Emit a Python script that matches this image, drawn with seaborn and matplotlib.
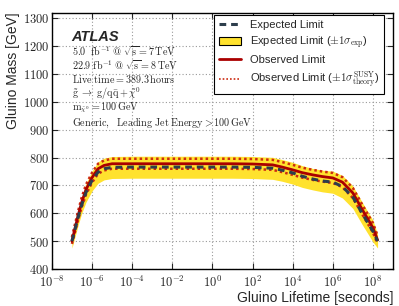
import numpy as np
import pandas as pd
import seaborn as sns
import matplotlib.pyplot as plt
from matplotlib.lines import Line2D
from matplotlib.patches import Patch
from matplotlib.ticker import FixedLocator, FuncFormatter, NullLocator

# Gluino lifetime [s] and mass limits [GeV]
lifetime = [1e-7, 2e-7, 3e-7, 5e-7, 1e-6, 2e-6, 4e-6, 1e-5, 1e-4, 1e-3, 1e-2, 1e-1,
            1e0, 1e1, 1e2, 1e3, 3e3, 1e4, 3e4, 1e5, 3e5, 1e6, 3e6, 1e7, 3e7, 1e8, 1.7e8]
observed = [500, 590, 637, 685, 728, 760, 772, 778, 778, 778, 778, 778,
            778, 778, 777, 774, 766, 756, 746, 738, 732, 727, 712, 673, 612, 548, 504]
expected = [500, 583, 628, 675, 718, 748, 760, 765, 766, 766, 766, 766,
            766, 766, 765, 762, 755, 745, 733, 723, 716, 712, 696, 658, 598, 535, 500]
exp_hi = [515, 607, 656, 707, 752, 785, 798, 804, 805, 805, 805, 805,
          805, 805, 804, 801, 793, 783, 771, 761, 755, 751, 736, 698, 638, 575, 525]
exp_lo = [475, 555, 598, 640, 680, 708, 720, 725, 726, 726, 726, 726,
          726, 726, 725, 722, 715, 705, 693, 684, 677, 672, 655, 617, 558, 497, 475]
theory_hi = [515, 606, 655, 703, 746, 778, 790, 796, 796, 796, 796, 796,
             796, 796, 795, 792, 784, 774, 764, 756, 750, 745, 730, 691, 630, 565, 520]
theory_lo = [490, 575, 620, 667, 710, 742, 754, 760, 760, 760, 760, 760,
             760, 760, 759, 756, 748, 738, 728, 720, 714, 709, 694, 655, 595, 531, 490]

df = pd.DataFrame({"lifetime": lifetime, "observed": observed, "expected": expected,
                   "theory_hi": theory_hi, "theory_lo": theory_lo})

sns.set_style("ticks")
plt.rcParams["mathtext.fontset"] = "cm"
plt.rcParams["font.family"] = ["Liberation Sans", "DejaVu Sans"]

fig = plt.figure(figsize=(3.99, 3.06), dpi=100)
ax = fig.add_axes([0.130, 0.121, 0.855, 0.837])

yellow = "#ffe22e"
red = "#aa0000"
dot_red = "#cc2a10"
slate = "#2d3e4c"

ax.fill_between(lifetime, exp_lo, exp_hi, color=yellow, lw=0, zorder=2)
sns.lineplot(data=df, x="lifetime", y="theory_hi", ax=ax, color=dot_red, lw=1.8,
             linestyle=(0, (1, 1.2)), zorder=3)
sns.lineplot(data=df, x="lifetime", y="theory_lo", ax=ax, color=dot_red, lw=1.8,
             linestyle=(0, (1, 1.2)), zorder=3)
sns.lineplot(data=df, x="lifetime", y="observed", ax=ax, color=red, lw=2.0, zorder=4)
sns.lineplot(data=df, x="lifetime", y="expected", ax=ax, color=slate, lw=2.2,
             linestyle=(0, (2.2, 1.6)), zorder=5)

ax.set_xscale("log")
ax.set_xlim(1e-8, 1e9)
ax.set_ylim(400, 1320)
ax.xaxis.set_major_locator(FixedLocator([10.0 ** k for k in range(-8, 9, 2)]))
ax.xaxis.set_minor_locator(NullLocator())
ax.yaxis.set_major_locator(FixedLocator(list(range(400, 1301, 100))))
ax.xaxis.set_major_formatter(FuncFormatter(lambda v, p: r"$10^{%d}$" % round(np.log10(v))))
ax.yaxis.set_major_formatter(FuncFormatter(lambda v, p: r"$%d$" % v))
ax.tick_params(direction="in", top=True, right=True, length=4, width=0.8, labelsize=9,
               pad=2)
ax.tick_params(axis="x", pad=4)
ax.grid(True, color="#999999", linestyle=(0, (1, 2)), lw=0.8)
for s in ax.spines.values():
    s.set_linewidth(1.0)
    s.set_color("black")

ax.set_xlabel("Gluino Lifetime [seconds]", fontsize=10, loc="right", labelpad=1)
ax.set_ylabel("Gluino Mass [GeV]", fontsize=10, loc="top", labelpad=2)

# annotation block
ax.text(0.058, 0.905, "ATLAS", transform=ax.transAxes, fontsize=10.5,
        style="italic", fontweight="bold", va="center")
info = [r"$\mathrm{5.0\ \ fb^{-1}\ @\ \sqrt{s} = 7\,TeV}$",
        r"$\mathrm{22.9\ fb^{-1}\ @\ \sqrt{s} = 8\,TeV}$",
        r"$\mathrm{Live\ time} = 389.3\,\mathrm{hours}$",
        r"$\tilde{\mathrm{g}}\ \rightarrow\ \mathrm{g/q\bar{q}} + \tilde{\chi}^0$",
        r"$\mathrm{m}_{\tilde{\chi}^0} = 100\,\mathrm{GeV}$",
        r"$\mathrm{Generic,\ \ Leading\ Jet\ Energy} > 100\,\mathrm{GeV}$"]
for i, t in enumerate(info):
    ax.text(0.058, 0.852 - i * 0.056, t, transform=ax.transAxes, fontsize=7.3,
            va="center")

handles = [Line2D([], [], color=slate, lw=2.2, linestyle=(0, (2.2, 1.6))),
           Patch(facecolor=yellow, edgecolor="black", lw=0.8),
           Line2D([], [], color=red, lw=2.0),
           Line2D([], [], color=dot_red, lw=1.2, linestyle=(0, (1, 1.2)))]
labels = ["Expected Limit",
          r"Expected Limit ($\pm1\sigma_{\mathrm{exp}}$)",
          "Observed Limit",
          r"Observed Limit ($\pm1\sigma_{\mathrm{theory}}^{\mathrm{SUSY}}$)"]
leg = ax.legend(handles, labels, loc="upper right", bbox_to_anchor=(0.99, 1.012),
                fontsize=8, frameon=True, fancybox=False, framealpha=1,
                edgecolor="black", handlelength=2.0, borderpad=0.4,
                labelspacing=0.4, handletextpad=0.8)
leg.get_frame().set_linewidth(0.8)

fig.savefig("out.png", dpi=100)
